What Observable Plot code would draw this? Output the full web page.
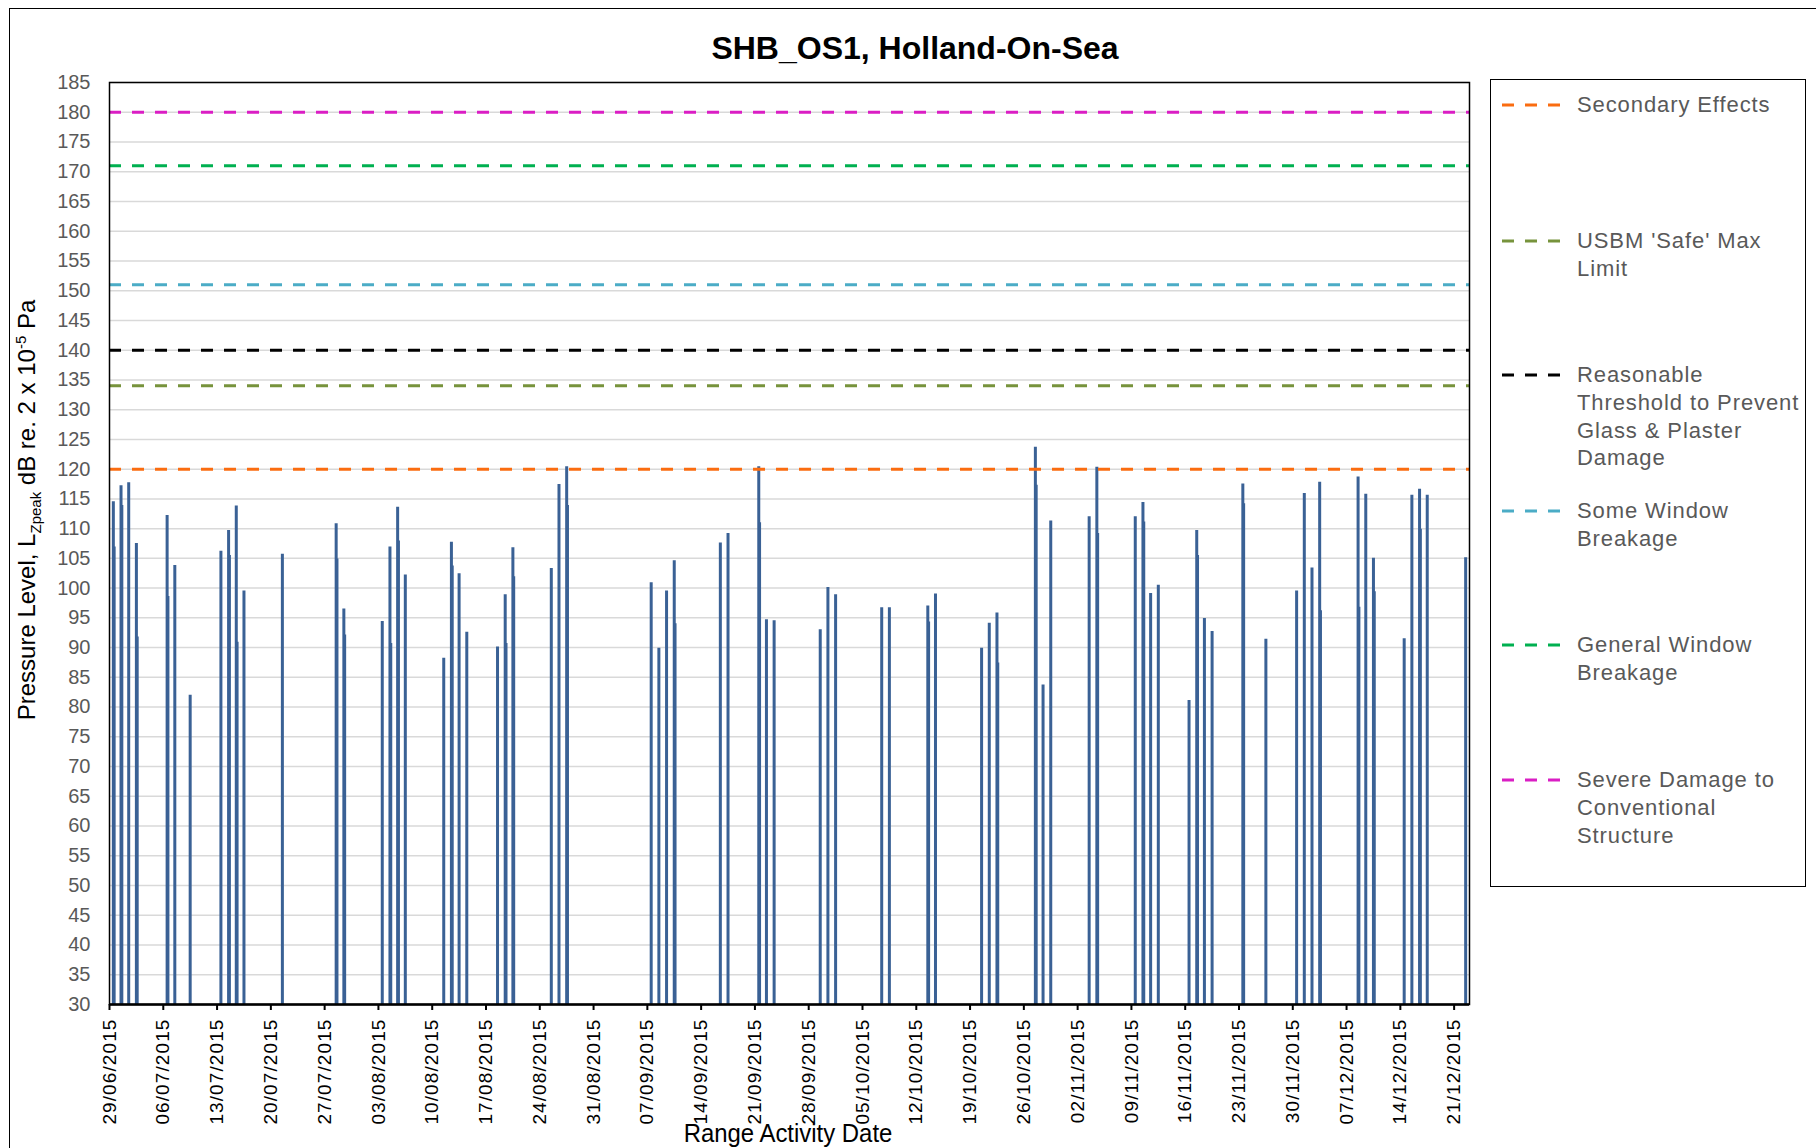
<!DOCTYPE html>
<html>
<head>
<meta charset="utf-8">
<script src="https://cdn.jsdelivr.net/npm/d3@7"></script>
<script src="https://cdn.jsdelivr.net/npm/@observablehq/plot@0.6"></script>
<style>
  html, body { margin: 0; padding: 0; background: #fff; }
  body { width: 1816px; height: 1148px; position: relative; overflow: hidden; font-family: "Liberation Sans", Arial, sans-serif; }
  #frame { position: absolute; left: 9px; top: 8px; width: 1840px; height: 1200px; border: 1.5px solid #000; box-sizing: border-box; }
  #title { position: absolute; left: 0; width: 1830px; top: 29px; text-align: center; font-weight: bold; font-size: 32px; line-height: 38px; color: #000; }
  #chart { position: absolute; left: 0; top: 0; }
  #ylabel { position: absolute; left: 28px; top: 510px; transform: translate(-50%, -50%) rotate(-90deg); white-space: nowrap; font-size: 24px; color: #000; }
  #ylabel sub, #ylabel sup { font-size: 15px; }
  #xlabel { position: absolute; left: 788px; top: 1133px; transform: translate(-50%, -50%) scaleX(0.92); white-space: nowrap; font-family: "Liberation Sans Narrow", "Liberation Sans", Arial, sans-serif; font-size: 26px; color: #000; }
  #legend { position: absolute; left: 1490px; top: 79px; width: 316px; height: 808px; border: 1.5px solid #000; box-sizing: border-box; }
  .entry { position: absolute; left: 0; width: 316px; }
  .entry svg { position: absolute; left: 10px; top: 0; }
  .entry .txt { position: absolute; left: 86px; top: 0; white-space: nowrap; font-size: 22px; letter-spacing: 0.9px; line-height: 27.8px; color: #595959; }
  g[aria-label="x-axis tick label"] text { letter-spacing: 1.1px; }
</style>
</head>
<body>
<div id="frame"></div>
<div id="chart"></div>
<div id="title"></div>
<div id="ylabel">Pressure Level, L<sub>Zpeak</sub> dB re. 2 x 10<sup>-5</sup> Pa</div>
<div id="xlabel"></div>
<div id="legend"></div>
<script>
// ---------- data ----------
const chartTitle = "SHB_OS1, Holland-On-Sea";
const xTitle = "Range Activity Date";

const activityDates = [
  "29/06/2015","30/06/2015","01/07/2015","02/07/2015","06/07/2015","07/07/2015","09/07/2015",
  "13/07/2015","14/07/2015","15/07/2015","16/07/2015","21/07/2015","28/07/2015","29/07/2015",
  "03/08/2015","04/08/2015","05/08/2015","06/08/2015","11/08/2015","12/08/2015","13/08/2015",
  "14/08/2015","18/08/2015","19/08/2015","20/08/2015","25/08/2015","26/08/2015","27/08/2015",
  "07/09/2015","08/09/2015","09/09/2015","10/09/2015","16/09/2015","17/09/2015","21/09/2015",
  "22/09/2015","23/09/2015","29/09/2015","30/09/2015","01/10/2015","07/10/2015","08/10/2015",
  "13/10/2015","14/10/2015","20/10/2015","21/10/2015","22/10/2015","27/10/2015","28/10/2015",
  "29/10/2015","03/11/2015","04/11/2015","09/11/2015","10/11/2015","11/11/2015","12/11/2015",
  "16/11/2015","17/11/2015","18/11/2015","19/11/2015","23/11/2015","26/11/2015","30/11/2015",
  "01/12/2015","02/12/2015","03/12/2015","08/12/2015","09/12/2015","10/12/2015","14/12/2015",
  "15/12/2015","16/12/2015","17/12/2015","22/12/2015"
];
// highest peak level recorded each day
const peakLevels = [
  114.5,117.2,117.7,107.5,112.2,103.8,82.0,
  106.2,109.7,113.8,99.5,105.7,110.8,96.5,
  94.4,106.9,113.6,102.2,88.2,107.7,102.4,
  92.6,90.1,98.9,106.8,103.3,117.4,120.4,
  100.9,89.9,99.5,104.6,107.6,109.2,120.4,
  94.7,94.5,93.0,100.1,98.9,96.7,96.7,
  97.0,99.0,89.9,94.1,95.8,123.7,83.7,
  111.3,112.0,120.3,112.0,114.4,99.1,100.5,
  81.1,109.7,94.9,92.7,117.5,91.4,99.5,
  115.9,103.4,117.8,118.7,115.8,105.0,91.5,
  115.6,116.6,115.6,105.1
];
// second recorded level on the same day (null where only one visible)
const secondLevels = [
  106.9,113.9,null,91.8,98.6,null,null,
  null,105.5,90.9,null,null,104.9,92.1,
  null,90.7,107.9,null,null,103.7,null,
  null,null,90.7,101.9,null,null,113.9,
  null,null,null,94.0,null,null,111.0,
  null,null,null,null,null,null,null,
  94.3,null,null,null,87.4,117.3,null,
  null,null,109.2,null,111.1,null,null,
  null,105.5,null,null,114.2,null,null,
  null,null,96.2,96.8,null,99.4,null,
  null,109.9,null,null
];

const thresholdLabels = [
  "Secondary Effects",
  "USBM 'Safe' Max\nLimit",
  "Reasonable\nThreshold to Prevent\nGlass & Plaster\nDamage",
  "Some Window\nBreakage",
  "General Window\nBreakage",
  "Severe Damage to\nConventional\nStructure"
];
const thresholdValues = [120, 134, 140, 151, 171, 180];
const thresholdColors = ["#FA6C10", "#77933C", "#000000", "#4BACC6", "#00B050", "#DA1EC4"];

const yTicks = [30,35,40,45,50,55,60,65,70,75,80,85,90,95,100,105,110,115,120,125,130,135,140,145,150,155,160,165,170,175,180,185];
const xTickLabels = [
  "29/06/2015","06/07/2015","13/07/2015","20/07/2015","27/07/2015","03/08/2015","10/08/2015",
  "17/08/2015","24/08/2015","31/08/2015","07/09/2015","14/09/2015","21/09/2015","28/09/2015",
  "05/10/2015","12/10/2015","19/10/2015","26/10/2015","02/11/2015","09/11/2015","16/11/2015",
  "23/11/2015","30/11/2015","07/12/2015","14/12/2015","21/12/2015"
];
const xDomainLabels = ["29/06/2015", "23/12/2015"];
const yDomain = [30, 185];

// ---------- build ----------
const parse = d3.utcParse("%d/%m/%Y");
const fmt = d3.utcFormat("%d/%m/%Y");
const rows = activityDates.map((d, i) => ({date: parse(d), peak: peakLevels[i], second: secondLevels[i]}));
const secondRows = rows.filter(r => r.second != null);
const thresholds = thresholdValues.map((v, i) => ({value: v, color: thresholdColors[i], label: thresholdLabels[i]}));
const mid = d => d3.utcHour.offset(d.date, 12);

const barColor = "#3A6195";

const chart = Plot.plot({
  width: 1490,
  height: 1148,
  marginLeft: 109,
  marginRight: 21,
  marginTop: 82,
  marginBottom: 144,
  style: {fontFamily: "'Liberation Sans', Arial, sans-serif", background: "transparent", overflow: "visible"},
  x: {type: "utc", domain: xDomainLabels.map(parse)},
  y: {domain: yDomain},
  color: {type: "identity"},
  marks: [
    Plot.ruleY(yTicks, {stroke: "#D9D9D9", strokeWidth: 1.5}),
    Plot.ruleX(rows, {x: mid, y1: yDomain[0], y2: "peak", stroke: barColor, strokeWidth: 3}),
    Plot.ruleX(secondRows, {x: mid, y1: yDomain[0], y2: "second", stroke: barColor, strokeWidth: 3, dx: 0.8}),
    Plot.ruleY(thresholds, {y: "value", stroke: "color", strokeWidth: 3, strokeDasharray: "12,11"}),
    Plot.frame({stroke: "#000", strokeWidth: 1.5}),
    Plot.ruleY([yDomain[0]], {stroke: "#000", strokeWidth: 2.5}),
    Plot.axisY(yTicks, {tickSize: 0, tickPadding: 19, fontSize: 20, fill: "#595959", label: null}),
    Plot.axisX(xTickLabels.map(parse), {tickRotate: -90, tickFormat: fmt, tickSize: 6, tickPadding: 8, fontSize: 19, fill: "#000", stroke: "#000", strokeWidth: 2, label: null})
  ]
});
document.getElementById("chart").appendChild(chart);
document.getElementById("title").textContent = chartTitle;
document.getElementById("xlabel").textContent = xTitle;

// legend (HTML)
const legendTops = [25, 161, 295, 431, 565, 700];
const legend = document.getElementById("legend");
thresholds.forEach((t, i) => {
  const e = document.createElement("div");
  e.className = "entry";
  e.style.top = (legendTops[i] - 14) + "px";
  e.innerHTML = `<svg width="62" height="28"><line x1="1" x2="59" y1="14" y2="14" stroke="${t.color}" stroke-width="3" stroke-dasharray="12,11"/></svg>`;
  const txt = document.createElement("div");
  txt.className = "txt";
  txt.innerHTML = t.label.split("\n").map(s => s.replace(/&/g, "&amp;")).join("<br>");
  e.appendChild(txt);
  legend.appendChild(e);
});
</script>
</body>
</html>
